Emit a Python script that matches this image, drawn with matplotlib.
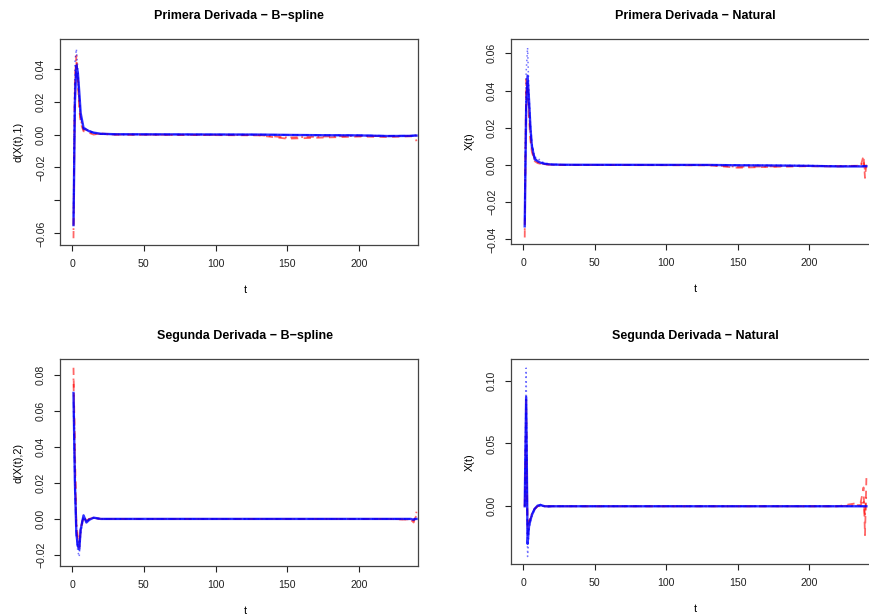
import matplotlib
matplotlib.use("Agg")
import matplotlib.pyplot as plt

plt.rcParams['font.family'] = ['Liberation Sans', 'DejaVu Sans']

# sample positions (t) shared by every curve
t = [1, 2, 3, 4, 5, 6, 8, 10, 12, 15, 20, 30, 130, 150, 175, 200, 220, 236, 238, 239, 240]

# Primera Derivada - B-spline
p1_red1 = [-0.063, 0.035, 0.048, 0.032, 0.016, 0.007, 0.002, 0.002, 0.001, 0.0, 0.0007, 0.0,
           -0.0005, -0.0025, -0.0018, -0.0012, -0.0015, -0.001, -0.0012, -0.002, -0.004]
p1_red2 = [-0.058, 0.030, 0.044, 0.036, 0.020, 0.009, 0.003, 0.003, 0.0015, 0.0005, 0.0003, 0.0,
           -0.0003, -0.0018, -0.0012, -0.0008, -0.001, -0.0008, -0.0006, -0.0005, -0.0008]
p1_blue1 = [-0.055, 0.020, 0.042, 0.038, 0.026, 0.013, 0.004, 0.003, 0.002, 0.0012, 0.0005, 0.0002,
            0.0, -0.0002, -0.0004, -0.0005, -0.0009, -0.0008, -0.0007, -0.0006, -0.0006]
p1_blue2 = [-0.050, 0.028, 0.039, 0.034, 0.023, 0.011, 0.003, 0.004, 0.0025, 0.001, 0.0004, 0.0001,
            0.0, -0.0001, -0.0003, -0.0004, -0.0007, -0.0006, -0.0005, -0.0004, -0.0005]
p1_blue3 = [-0.045, 0.044, 0.052, 0.040, 0.024, 0.011, 0.004, 0.003, 0.002, 0.001, 0.0004, 0.0001,
            0.0, -0.0002, -0.0004, -0.0005, -0.0008, -0.0007, -0.0006, -0.0005, -0.0005]

# Primera Derivada - Natural
p2_red1 = [-0.039, 0.046, 0.040, 0.025, 0.013, 0.007, 0.002, 0.001, 0.0006, 0.0003, 0.0001, 0.0,
           -0.0002, -0.0015, -0.001, -0.0007, -0.0008, -0.0005, 0.005, -0.007, 0.001]
p2_red2 = [-0.035, 0.040, 0.044, 0.030, 0.016, 0.008, 0.003, 0.0015, 0.0008, 0.0004, 0.0001, 0.0,
           -0.0001, -0.001, -0.0008, -0.0005, -0.0006, -0.0004, 0.002, -0.003, 0.0]
p2_blue1 = [-0.033, 0.030, 0.048, 0.035, 0.020, 0.010, 0.003, 0.002, 0.0012, 0.0006, 0.0002, 0.0001,
            0.0, -0.0002, -0.0003, -0.0005, -0.0008, -0.0008, -0.0008, -0.0007, -0.0007]
p2_blue2 = [-0.030, 0.032, 0.045, 0.033, 0.020, 0.011, 0.004, 0.002, 0.0013, 0.0007, 0.0003, 0.0001,
            0.0, -0.0001, -0.0003, -0.0004, -0.0007, -0.0007, -0.0006, -0.0006, -0.0006]
p2_blue3 = [-0.028, 0.050, 0.063, 0.038, 0.022, 0.012, 0.004, 0.004, 0.002, 0.001, 0.0003, 0.0001,
            0.0, -0.0001, -0.0002, -0.0003, -0.0006, -0.0006, -0.0005, -0.0005, -0.0005]

# Segunda Derivada - B-spline
p3_red1 = [0.084, 0.040, -0.005, -0.012, -0.016, -0.006, 0.0015, -0.001, 0.0, 0.0005, 0.0, 0.0,
           0.0, 0.0, 0.0, 0.0, 0.0, -0.0005, -0.002, 0.001, 0.004]
p3_red2 = [0.078, 0.030, -0.002, -0.010, -0.014, -0.005, 0.001, -0.0015, 0.0, 0.0006, 0.0, 0.0,
           0.0, 0.0, 0.0, 0.0, 0.0, -0.0003, -0.001, 0.0005, 0.002]
p3_blue1 = [0.070, 0.020, -0.008, -0.015, -0.017, -0.006, 0.002, -0.002, -0.0005, 0.0007, 0.0, 0.0,
            0.0, 0.0, 0.0, 0.0, 0.0, 0.0, -0.0005, 0.0, 0.0]
p3_blue2 = [0.065, 0.015, -0.010, -0.016, -0.015, -0.005, 0.0015, -0.0015, -0.0003, 0.0005, 0.0, 0.0,
            0.0, 0.0, 0.0, 0.0, 0.0, 0.0, 0.0, 0.0, 0.0]
p3_blue3 = [0.060, 0.020, -0.008, -0.018, -0.021, -0.008, 0.001, -0.001, 0.0, 0.0004, 0.0, 0.0,
            0.0, 0.0, 0.0, 0.0, 0.0, 0.0, 0.0, 0.0, 0.0]

# Segunda Derivada - Natural
p4_red1 = [0.0, 0.085, -0.022, -0.014, -0.010, -0.007, -0.002, 0.0, 0.0005, 0.0, 0.0, 0.0,
           0.0, 0.0, 0.0, 0.0, 0.0, 0.003, 0.015, -0.023, 0.023]
p4_red2 = [0.0, 0.040, -0.015, -0.012, -0.009, -0.006, -0.002, 0.0, 0.0003, 0.0, 0.0, 0.0,
           0.0, 0.0, 0.0, 0.0, 0.0, 0.001, 0.005, -0.008, 0.010]
p4_blue1 = [0.0, 0.087, -0.030, -0.016, -0.011, -0.007, -0.002, 0.0005, 0.001, 0.0, 0.0, 0.0,
            0.0, 0.0, 0.0, 0.0, 0.0, 0.0, 0.0, 0.0, 0.0]
p4_blue2 = [0.0, 0.080, -0.025, -0.014, -0.010, -0.006, -0.0015, 0.0, 0.0015, -0.001, 0.0, 0.0,
            0.0, 0.0, 0.0, 0.0, 0.0, 0.0, 0.0, 0.0, 0.0]
p4_blue3 = [0.0, 0.110, -0.040, -0.018, -0.012, -0.008, -0.002, 0.0, 0.0, 0.0, 0.0, 0.0,
            0.0, 0.0, 0.0, 0.0, 0.0, 0.0, 0.0, 0.0, 0.0]

titles = ["Primera Derivada \u2212 B\u2212spline", "Primera Derivada \u2212 Natural",
          "Segunda Derivada \u2212 B\u2212spline", "Segunda Derivada \u2212 Natural"]
ylabels = ["d(X(t),1)", "X(t)", "d(X(t),2)", "X(t)"]
yticks = [[-0.06, -0.04, -0.02, 0.0, 0.02, 0.04],
          [-0.04, -0.02, 0.0, 0.02, 0.04, 0.06],
          [-0.02, 0.0, 0.02, 0.04, 0.06, 0.08],
          [0.0, 0.05, 0.10]]
xticks = [0, 50, 100, 150, 200]

panels = [
    ([p1_red1, p1_red2], [p1_blue1, p1_blue2, p1_blue3]),
    ([p2_red1, p2_red2], [p2_blue1, p2_blue2, p2_blue3]),
    ([p3_red1, p3_red2], [p3_blue1, p3_blue2, p3_blue3]),
    ([p4_red1, p4_red2], [p4_blue1, p4_blue2, p4_blue3]),
]

W, H = 870, 616
# axes boxes in pixels: left, top, right, bottom
boxes = [(60, 39.3, 418, 245), (511, 39, 880, 244),
         (60, 359.3, 418, 565.7), (511, 359.3, 880, 564.3)]
xlims = [(-8.4, 241), (-8.6, 249.5), (-8.4, 241), (-8.6, 249.5)]
ylims = [(-0.0671, 0.0579), (-0.0425, 0.0677), (-0.026, 0.0887), (-0.0462, 0.117)]

red_styles = [(0, (4, 3)), (0, (1, 2, 4, 2))]
blue_styles = ['-', (0, (4, 3)), (0, (1, 2))]

fig = plt.figure(figsize=(W / 100, H / 100), dpi=100)

for i, (reds, blues) in enumerate(panels):
    l, tp, r, b = boxes[i]
    ax = fig.add_axes([l / W, 1 - b / H, (r - l) / W, (b - tp) / H])
    for vals, ls in zip(reds, red_styles):
        ax.plot(t, vals, color='#ff0000', alpha=0.6, lw=1.3, ls=ls)
    for vals, ls in zip(blues, blue_styles):
        solid = ls == '-'
        ax.plot(t, vals, color='#0000ff', alpha=0.8 if solid else 0.55,
                lw=1.7 if solid else 1.1, ls=ls)

    ax.set_xlim(*xlims[i])
    ax.set_ylim(*ylims[i])
    ax.set_xticks(xticks)
    ax.set_yticks(yticks[i])
    labels = ["%.2f" % v for v in yticks[i]]
    labels = [s.replace('-', '\u2212') for s in labels]
    if i == 0:
        labels[1] = ""
    ax.set_yticklabels(labels, rotation=90, va='center')
    ax.tick_params(labelsize=7.6, length=4, width=0.8, colors='#222222', pad=6)
    for sp in ax.spines.values():
        sp.set_color('#444444')
        sp.set_linewidth(0.9)

    ah = b - tp
    aw = r - l
    ax.set_xlabel("t", fontsize=7.8)
    ax.xaxis.set_label_coords(0.5 if i % 2 else (245 - l) / aw, -45 / ah)
    ax.set_ylabel(ylabels[i], fontsize=7.8)
    ax.yaxis.set_label_coords(-41 / aw, 0.5)
    ax.yaxis.label.set_va('center')
    ax.xaxis.label.set_va('center')
    tx = 0.5 if i != 2 else (245 - l) / aw
    ax.text(tx, 1 + 23 / ah, titles[i], transform=ax.transAxes, ha='center', va='center',
            fontsize=9, fontweight='bold')

fig.savefig("out.png", dpi=100)
